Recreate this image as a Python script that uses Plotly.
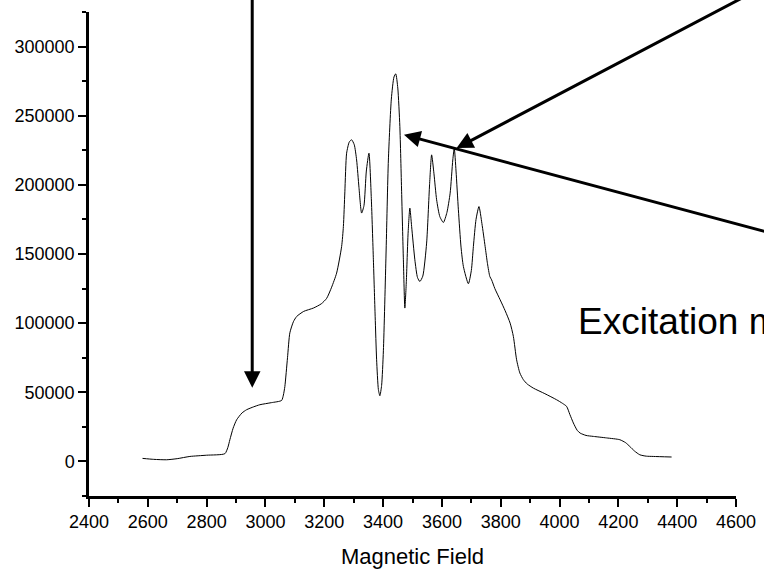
import plotly.graph_objects as go

# Spectrum
field = [2582, 2620, 2664, 2700, 2743, 2800, 2862, 2872, 2879, 2890, 2902, 2920, 2936, 2960,
         2981, 3020, 3055, 3061, 3066, 3075, 3083, 3095, 3106, 3130, 3163, 3190, 3208, 3225,
         3242, 3259, 3265, 3270, 3276, 3285, 3293, 3302, 3310, 3318, 3327, 3335, 3343, 3352,
         3360, 3367, 3373, 3378, 3384, 3389, 3395, 3401, 3410, 3418, 3428, 3437, 3443, 3450,
         3457, 3463, 3469, 3474, 3479, 3485, 3491, 3497, 3508, 3517, 3525, 3535, 3548, 3558,
         3565, 3573, 3582, 3593, 3605, 3617, 3628, 3637, 3642, 3648, 3656, 3665, 3673, 3690,
         3700, 3707, 3716, 3726, 3736, 3747, 3755, 3763, 3769, 3780, 3798, 3815, 3832, 3843,
         3854, 3865, 3877, 3890, 3911, 3950, 3990, 4010, 4024, 4035, 4047, 4060, 4070, 4090,
         4115, 4160, 4205, 4225, 4239, 4255, 4273, 4295, 4319, 4381]
intensity = [2200, 1500, 1200, 2000, 3600, 4500, 5600, 10000, 15700, 24000, 30100, 35000, 37400, 39500,
             41000, 42500, 44100, 48000, 54200, 75000, 93000, 101000, 104800, 108500, 110900, 114000, 117900, 126000,
             136200, 155400, 169900, 195000, 222900, 231000, 232600, 229000, 218000, 198000, 179600, 185000, 210000, 222900,
             190000, 145800, 105000, 73500, 52000, 47500, 55000, 80000, 150000, 218000, 262000, 278000, 280300, 270000,
             242200, 195000, 145800, 110900, 130000, 165000, 183200, 170000, 145800, 133000, 130100, 134000, 157900, 200000,
             221700, 208000, 189200, 177000, 172800, 180000, 194000, 218000, 226500, 210000, 182000, 155000, 141000, 128500,
             138000, 155400, 175000, 184300, 172000, 155400, 143000, 133700, 131300, 125000, 116900, 109000, 100000, 90400,
             73500, 64000, 59100, 56000, 53000, 49000, 44600, 42000, 39800, 34000, 27800, 22500, 20500, 18800,
             18100, 17000, 15700, 13500, 10800, 7500, 4800, 3800, 3600, 3200]

x_ticks = [2400, 2600, 2800, 3000, 3200, 3400, 3600, 3800, 4000, 4200, 4400, 4600]
y_ticks = [0, 50000, 100000, 150000, 200000, 250000, 300000]

# Arrows: head and tail in data coordinates, label
arrow_heads_x = [2955, 3650, 3471]
arrow_heads_y = [53300, 226600, 236200]
arrow_tails_x = [2955, 4750, 4750]
arrow_tails_y = [360000, 349600, 163300]
label_text = "Excitation mode"
label_x = 4055
label_y = 101000

FONT = "Liberation Sans, Arial, sans-serif"

fig = go.Figure()
fig.add_trace(go.Scatter(x=field, y=intensity, mode="lines",
                         line=dict(color="black", width=1, shape="spline", smoothing=0.6),
                         showlegend=False, hoverinfo="skip"))

for hx, hy, tx, ty in zip(arrow_heads_x, arrow_heads_y, arrow_tails_x, arrow_tails_y):
    fig.add_annotation(x=hx, y=hy, xref="x", yref="y", ax=tx, ay=ty, axref="x", ayref="y",
                       text="", showarrow=True, arrowhead=2, arrowsize=1.1, arrowwidth=3,
                       arrowcolor="black", standoff=0)

fig.add_annotation(x=label_x, y=label_y, xref="x", yref="y", text=label_text,
                   showarrow=False, xanchor="left", yanchor="middle",
                   font=dict(family=FONT, size=37, color="black"))

fig.update_layout(
    width=764, height=572,
    margin=dict(l=89, r=28, t=12, b=76),
    paper_bgcolor="white", plot_bgcolor="white",
    font=dict(family=FONT, color="black"),
    xaxis=dict(range=[2400, 4600], tickvals=x_ticks, ticks="outside", ticklen=8, tickwidth=2,
               tickcolor="black", showline=True, linewidth=2.5, linecolor="black",
               showgrid=False, zeroline=False, tickfont=dict(size=18), automargin=False,
               minor=dict(dtick=100, ticks="outside", ticklen=4, tickwidth=2, tickcolor="black", showgrid=False),
               title=dict(text="Magnetic Field", font=dict(size=22), standoff=18)),
    yaxis=dict(range=[-25000, 325000], tickvals=y_ticks, ticks="outside", ticklen=8, tickwidth=2,
               tickcolor="black", showline=True, linewidth=2.5, linecolor="black", automargin=False,
               showgrid=False, zeroline=False, tickfont=dict(size=18), tickformat="d",
               minor=dict(dtick=25000, tick0=0, ticks="outside", ticklen=4, tickwidth=2, tickcolor="black", showgrid=False)),
)

fig.write_html("out.html")
